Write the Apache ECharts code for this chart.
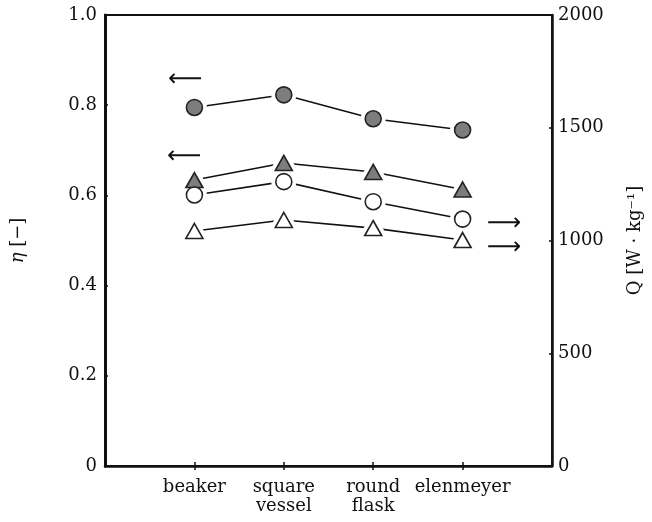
<!DOCTYPE html>
<html><head><meta charset="utf-8">
<script src="https://cdn.jsdelivr.net/npm/echarts@6/dist/echarts.min.js"></script>
<style>html,body{margin:0;padding:0;background:#fff}#c{width:652px;height:522px}</style>
</head><body><div id="c"></div>
<script>
var categories = ['', 'beaker', 'square\nvessel', 'round\nflask', 'elenmeyer', ''];
var etaFilledCircle = [0.795, 0.823, 0.770, 0.745];
var etaFilledTriangle = [0.634, 0.672, 0.652, 0.613];
var qOpenCircle = [1202, 1261, 1172, 1095];
var qOpenTriangle = [1042, 1091, 1055, 1002];
var etaTicks = [0, 0.2, 0.4, 0.6, 0.8, 1.0];
var qTicks = [0, 500, 1000, 1500, 2000];

var FONT = 'DejaVu Serif';
function pts(vals){ return vals.map(function(v,i){ return [i+1, v]; }); }

function group(vals, yIdx, sym, size, fill){
  return [
    { type:'line', xAxisIndex:0, yAxisIndex:yIdx, data:pts(vals), z:2,
      symbol:sym, symbolSize:size, showSymbol:true,
      lineStyle:{color:'#111', width:1.6},
      itemStyle:{color:'#fff', borderColor:'#fff', borderWidth:9},
      emphasis:{disabled:true}, silent:true, animation:false },
    { type:'scatter', xAxisIndex:0, yAxisIndex:yIdx, data:pts(vals), z:4,
      symbol:sym, symbolSize:size,
      itemStyle:{color:fill, borderColor:'#222', borderWidth:1.6, opacity:1},
      silent:true, animation:false }
  ];
}

var chart = echarts.init(document.getElementById('c'), null, {renderer:'canvas'});
var series = [].concat(
  group(etaFilledCircle, 0, 'circle', 16, '#7d7d7d'),
  group(etaFilledTriangle, 0, 'triangle', [17,15], '#7d7d7d'),
  group(qOpenCircle, 1, 'circle', 16, '#fff'),
  group(qOpenTriangle, 1, 'triangle', [17,15], '#fff')
);

chart.setOption({
  animation:false,
  backgroundColor:'#fff',
  grid:{left:105, right:100, top:15, bottom:56, show:true, borderColor:'#111', borderWidth:2},
  xAxis:[
    { type:'category', data:categories, boundaryGap:false, position:'bottom',
      axisLine:{lineStyle:{color:'#111', width:2.5}},
      axisTick:{inside:true, length:4, interval:function(i){return i>0 && i<5;}, lineStyle:{color:'#111', width:1.5}},
      axisLabel:{interval:0, color:'#111', fontFamily:FONT, fontSize:18, lineHeight:19, margin:12},
      splitLine:{show:false} },
    { type:'category', data:categories, boundaryGap:false, position:'top',
      axisLine:{lineStyle:{color:'#111', width:2}},
      axisTick:{inside:true, length:4, interval:function(i){return i>0 && i<5;}, lineStyle:{color:'#111', width:1.5}},
      axisLabel:{show:false}, splitLine:{show:false} }
  ],
  yAxis:[
    { type:'value', position:'left', min:etaTicks[0], max:etaTicks[etaTicks.length-1], interval:0.2,
      axisLine:{show:true, lineStyle:{color:'#111', width:3}},
      axisTick:{show:true, inside:true, length:3, lineStyle:{color:'#111', width:1.5}},
      axisLabel:{color:'#111', fontFamily:FONT, fontSize:18, margin:8,
        formatter:function(v){ return v===0 ? '0' : v.toFixed(1); }},
      splitLine:{show:false},
      name:'{i|η} [−]', nameLocation:'middle', nameRotate:90, nameGap:78,
      nameTextStyle:{color:'#111', fontFamily:FONT, fontSize:18,
        rich:{i:{fontStyle:'italic', fontFamily:FONT, fontSize:18, color:'#111'}}} },
    { type:'value', position:'right', min:qTicks[0], max:qTicks[qTicks.length-1], interval:500,
      axisLine:{show:true, lineStyle:{color:'#111', width:2.5}},
      axisTick:{show:true, inside:true, length:3, lineStyle:{color:'#111', width:1.5}},
      axisLabel:{color:'#111', fontFamily:FONT, fontSize:18, margin:6,
        formatter:function(v){ return String(v); }},
      splitLine:{show:false},
      name:'Q [W · kg⁻¹]', nameLocation:'middle', nameRotate:90, nameGap:74,
      nameTextStyle:{color:'#111', fontFamily:FONT, fontSize:18} }
  ],
  graphic:[
    { type:'text', left:168, top:68, style:{text:'⟵', font:'24px "DejaVu Sans"', fill:'#111'} },
    { type:'text', left:167, top:145, style:{text:'⟵', font:'24px "DejaVu Sans"', fill:'#111'} },
    { type:'text', left:487, top:212, style:{text:'⟶', font:'24px "DejaVu Sans"', fill:'#111'} },
    { type:'text', left:487, top:236, style:{text:'⟶', font:'24px "DejaVu Sans"', fill:'#111'} }
  ],
  series:series
});
</script></body></html>
